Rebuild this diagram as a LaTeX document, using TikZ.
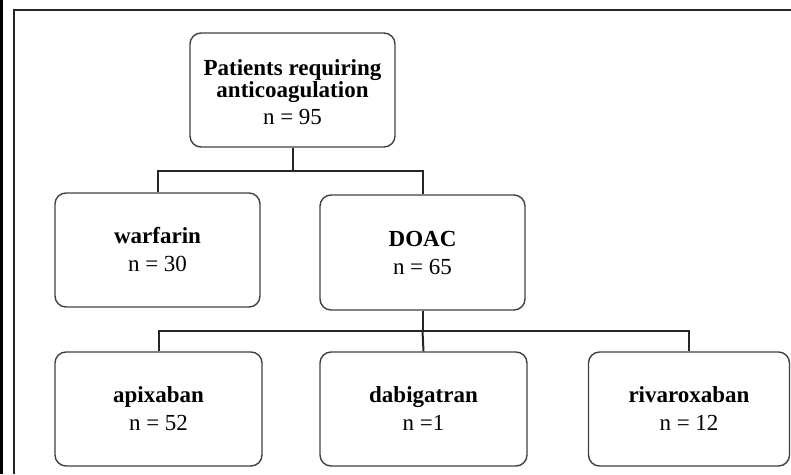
\documentclass[tikz,border=0pt]{standalone}
\usepackage{fontspec}
\setmainfont{Liberation Serif}
\usetikzlibrary{calc}
\begin{document}
\begin{tikzpicture}[x=1pt,y=-1pt,
  box/.style={draw=black!75, line width=1.4pt, rounded corners=11pt, minimum width=205pt, minimum height=114pt, inner sep=0pt, align=center, font=\fontsize{23}{21}\selectfont},
  conn/.style={draw=black!85, line width=2pt},
  frame/.style={draw=black!85, line width=2pt}]
\useasboundingbox (0,0) rectangle (791,474);
\fill[black] (0,0) rectangle (2.5,474);
\draw[frame] (13.5,474) -- (13.5,9.5) -- (791,9.5);
\node[box] (top) at (292.5,90) {};
\node[align=center, font=\fontsize{23}{21}\selectfont] (toptext) at (292.5,92) {\textbf{Patients requiring}\\\textbf{anticoagulation}\\[6pt]n = 95};
\node[box] (warf) at (157.5,250) {\textbf{warfarin}\\[7pt]n = 30};
\node[box, minimum height=115pt] (doac) at (422.5,252.5) {\textbf{DOAC}\\[7pt]n = 65};
\node[box, minimum width=207pt] (apix) at (158.5,409) {\textbf{apixaban}\\[7pt]n = 52};
\node[box, minimum width=207pt] (dabi) at (423.5,409) {\textbf{dabigatran}\\[7pt]n =1};
\node[box, minimum width=201pt] (riva) at (689,409) {\textbf{rivaroxaban}\\[7pt]n = 12};
\coordinate (bus1) at (0,171);
\coordinate (bus2) at (0,331);
\draw[conn] (top.south) -- (top.south |- bus1) -| (warf.north);
\draw[conn] (top.south |- bus1) -| (doac.north);
\draw[conn] (doac.south) -- (doac.south |- bus2) -| (apix.north);
\draw[conn] (doac.south |- bus2) -- (dabi.north);
\draw[conn] (doac.south |- bus2) -| (riva.north);
\end{tikzpicture}
\end{document}
